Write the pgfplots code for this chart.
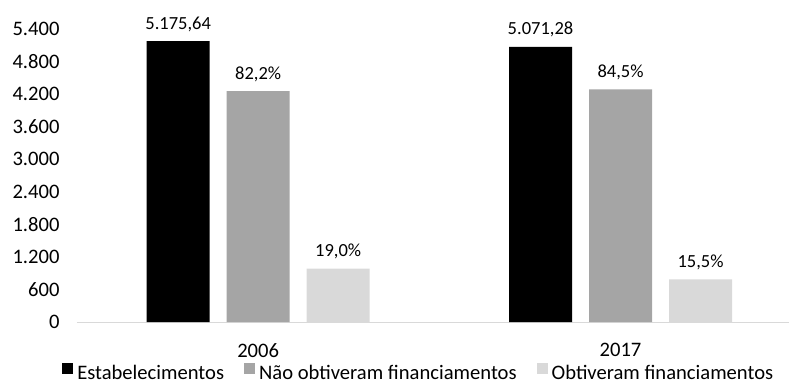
\documentclass[border=0pt]{standalone}
\usepackage{pgfplots}
\pgfplotsset{compat=1.18}
\usepackage{fontspec}
\setmainfont{Carlito}
\definecolor{cgrey}{HTML}{A5A5A5}
\definecolor{clight}{HTML}{D9D9D9}
\newcommand{\fs}{\fontsize{18.5}{22}\selectfont}
\newcommand{\ft}{\fontsize{20.6}{24}\selectfont}
\begin{document}
\begin{tikzpicture}
\path[use as bounding box] (-77pt,-59pt) rectangle (712pt,322pt);
\begin{axis}[
  at={(0pt,0pt)}, anchor=south west,
  scale only axis, width=712pt, height=293pt,
  xmin=-0.5, xmax=1.465, ymin=0, ymax=5400,
  ytick={0,600,...,5400},
  xtick={0,1}, xticklabels={2006,2017},
  axis x line*=bottom, axis y line*=left,
  x axis line style={draw=clight, line width=1pt, -},
  y axis line style={draw=none},
  major tick length=0pt,
  ytick style={draw=none}, xtick style={draw=none},
  /pgf/number format/.cd, 1000 sep={.}, assume math mode=true, /pgfplots/.cd,
  ticklabel style={font=\ft, text=black},
  yticklabel style={xshift=-14pt},
  xticklabel style={yshift=-18pt},
  ybar=17pt, bar width=63pt,
  clip=false,
  nodes near coords,
  point meta=explicit symbolic,
  every node near coord/.append style={font=\fs, text=black, yshift=6pt},
  legend columns=3,
  legend style={draw=none, fill=none, font=\ft, at={(0.48,-0.171)}, anchor=center,
    nodes={inner ysep=0pt},
    /tikz/every even column/.append style={column sep=18pt},
    /tikz/every odd column/.append style={column sep=2pt}},
  legend image code/.code={\path[#1] (0pt,-1pt) rectangle (11pt,10pt);},
]
\addplot[fill=black, draw=none] coordinates {(0,5175.64) [5.175,64] (1,5071.28) [5.071,28]};
\addplot[fill=cgrey, draw=none] coordinates {(0,4254.4) [82,2\%] (1,4285.2) [84,5\%]};
\addplot[fill=clight, draw=none] coordinates {(0,983.4) [19,0\%] (1,786.0) [15,5\%]};
\legend{Estabelecimentos, Não obtiveram financiamentos, Obtiveram financiamentos}
\end{axis}
\end{tikzpicture}
\end{document}
